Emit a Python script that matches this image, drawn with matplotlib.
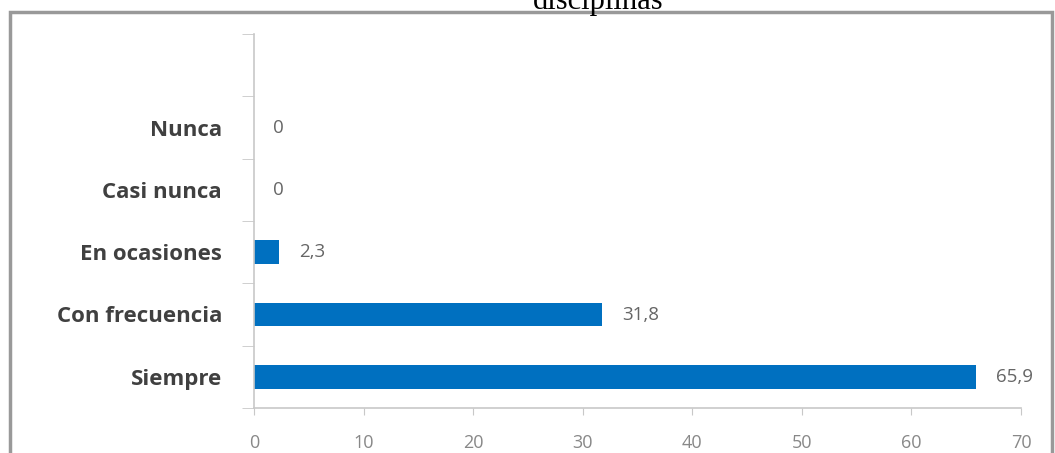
import matplotlib
matplotlib.use('Agg')
from matplotlib import pyplot as plt
from matplotlib.patches import Rectangle

# categorias de abajo hacia arriba
categorias = ['Siempre', 'Con frecuencia', 'En ocasiones', 'Casi nunca', 'Nunca']
valores = [65.9, 31.8, 2.3, 0, 0]
etiquetas = ['65,9', '31,8', '2,3', '0', '0']
xticks = [0, 10, 20, 30, 40, 50, 60, 70]

azul = '#0070C0'
gris_eje = '#c8c8c8'

plt.rcParams['font.family'] = ['Open Sans', 'DejaVu Sans']

fig = plt.figure(figsize=(10.55, 4.53), dpi=100)
ax = fig.add_axes([254 / 1055, 1 - 408 / 453, (1021 - 254) / 1055, (408 - 34) / 453])

pos = list(range(len(categorias)))
ax.barh(pos, valores, height=0.38, color=azul)

for p, v, t in zip(pos, valores, etiquetas):
    ax.annotate(t, (v, p), xytext=(14, 0), textcoords='offset points',
                va='center', ha='left', fontsize=13.5, color='#666666')

ax.set_xlim(0, 70)
ax.set_ylim(-0.5, 5.5)
ax.set_xticks(xticks)
ax.set_xticklabels([str(x) for x in xticks], fontsize=13, color='#888888')
ax.set_yticks(pos)
ax.set_yticklabels(categorias, fontsize=16, fontweight='bold', color='#404040')
ax.tick_params(axis='y', length=0, pad=23)
ax.tick_params(axis='x', length=5, color=gris_eje, pad=14)

# marcas entre categorias en el eje y
ax.set_yticks([i - 0.5 for i in range(7)], minor=True)
ax.tick_params(axis='y', which='minor', length=9, color=gris_eje)

for s in ['top', 'right']:
    ax.spines[s].set_visible(False)
for s in ['left', 'bottom']:
    ax.spines[s].set_color(gris_eje)
    ax.spines[s].set_linewidth(1.2)

# marco exterior del grafico
fig.patches.append(Rectangle((10 / 1055, -0.05), 1042 / 1055, 1.05 - 12 / 453,
                             transform=fig.transFigure, fill=False,
                             edgecolor='#999999', linewidth=2.5))

fig.text(598 / 1055, 1 - 9 / 453, 'disciplinas', ha='center', va='baseline',
         fontsize=22, family='Liberation Serif', color='black')

fig.savefig('out.png', dpi=100)
